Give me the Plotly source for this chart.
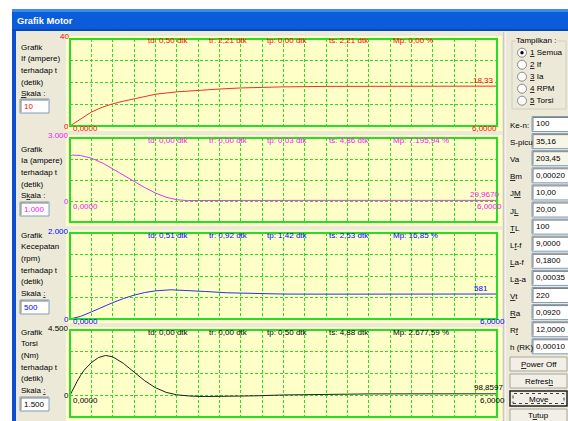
import plotly.graph_objects as go

# ---------------- simulation results ----------------
t_end = 6.0

t_if = [0, 0.15, 0.3, 0.45, 0.6, 0.75, 0.9, 1.05, 1.2, 1.5, 1.8, 2.1, 2.4, 2.7,
        3.0, 3.6, 4.2, 4.8, 5.4, 6.0]
i_field = [0, 3.4, 6.4, 8.6, 10.2, 11.4, 12.4, 13.6, 14.6, 15.7, 16.5, 17.0, 17.5,
           17.8, 18.0, 18.2, 18.28, 18.31, 18.33, 18.33]

t_ia = [0, 0.003, 0.03, 0.15, 0.3, 0.45, 0.6, 0.75, 0.9, 1.05, 1.2, 1.35, 1.5,
        1.65, 1.8, 2.1, 2.7, 3.6, 4.8, 6.0]
i_arm = [0, 2150, 2186, 2165, 2040, 1820, 1530, 1230, 920, 640, 380, 180, 60,
         20, 25, 29, 30, 30, 29.97, 29.967]

t_rpm = [0, 0.15, 0.3, 0.45, 0.6, 0.75, 0.9, 1.05, 1.2, 1.42, 1.65, 1.9, 2.2,
         2.53, 3.0, 3.6, 4.2, 5.0, 6.0]
speed_rpm = [0, 60, 165, 275, 380, 475, 555, 615, 655, 679, 668, 640, 610,
             592, 580, 578, 580, 581, 581]

t_tq = [0, 0.05, 0.1, 0.15, 0.2, 0.3, 0.4, 0.5, 0.6, 0.75, 0.9, 1.05, 1.2, 1.35,
        1.5, 1.7, 1.9, 2.2, 2.6, 3.0, 3.6, 4.2, 5.0, 6.0]
torque_nm = [0, 500, 960, 1380, 1740, 2250, 2600, 2746, 2650, 2200, 1580, 1000,
             520, 200, 30, -60, -90, -80, -40, 20, 70, 92, 98, 98.8597]

# vertical scale of each graph (top value and grid step)
scale_top = [40, 3000, 2000, 4500]
scale_step = [10, 1000, 500, 1500]
scale_top_text = ["40", "3.000", "2.000", "4.500"]
scale_step_text = ["10", "1.000", "500", "1.500"]
final_decimals = [2, 4, 0, 4]

stats_if = ["td: 0,50 dtk", "tr: 2,21 dtk", "tp: 0,00 dtk", "ts: 2,21 dtk", "Mp: 0,00 %"]
stats_ia = ["td: 0,00 dtk", "tr: 0,00 dtk", "tp: 0,03 dtk", "ts: 4,86 dtk", "Mp: 7.195,94 %"]
stats_rpm = ["td: 0,51 dtk", "tr: 0,92 dtk", "tp: 1,42 dtk", "ts: 2,53 dtk", "Mp: 16,85 %"]
stats_tq = ["td: 0,00 dtk", "tr: 0,00 dtk", "tp: 0,50 dtk", "ts: 4,88 dtk", "Mp: 2.677,59 %"]

desc_if = ["Grafik", "If (ampere)", "terhadap t", "(detik)", "<u>S</u>kala :"]
desc_ia = ["Grafik", "Ia (ampere)", "terhadap t", "(detik)", "S<u>k</u>ala :"]
desc_rpm = ["Grafik", "Kecepatan", "(rpm)", "terhadap t", "(detik)", "Skala <u>:</u>"]
desc_tq = ["Grafik", "Torsi", "(Nm)", "terhadap t", "(detik)", "Skala <u>:</u>"]

show_options = ["<u>1</u> Semua", "<u>2</u> If", "<u>3</u> Ia", "<u>4</u> RPM", "<u>5</u> Torsi"]
param_names = ["Ke-n:", "S-picu", "Va", "<u>B</u>m", "J<u>M</u>", "J<u>L</u>", "<u>T</u>L",
               "L<u>f</u>-f", "<u>L</u>a-f", "L<u>a</u>-a", "<u>V</u>t", "<u>R</u>a", "R<u>f</u>", "h (RK)"]
param_values = ["100", "35,16", "203,45", "0,00020", "10,00", "20,00", "100", "9,0000",
                "0,1800", "0,00035", "220", "0,0920", "12,0000", "0,00010"]
param_readonly = [False, True, True] + [False] * 11
button_names = ["<u>P</u>ower Off", "Refres<u>h</u>", "Move", "T<u>u</u>tup"]

# ---------------- page geometry (pixels) ----------------
W, H = 568, 421
FONT = "Liberation Sans, Arial, sans-serif"
FS = 8
BODY = "#ECE9D8"
YELLOW = "#FFFFC8"
GREEN = "#2ADC2A"


def px(x):
    return x / W


def py(y):
    return 1 - y / H


plot_l, plot_r = 70, 497
tops = [39, 138, 233, 330]
bots = [126, 222, 319, 417]
yel = [(36, 131), (135, 226), (230, 323), (327, 421)]
line_col = ["#FF2828", "#EE30EE", "#2E2EE8", "#202020"]
text_col = ["#FF0000", "#F020F0", "#0000FF", "#000000"]

series = [(t_if, i_field), (t_ia, i_arm), (t_rpm, speed_rpm), (t_tq, torque_nm)]
stats = [stats_if, stats_ia, stats_rpm, stats_tq]
descs = [desc_if, desc_ia, desc_rpm, desc_tq]
desc_top = [47, 149, 235, 332]
box_top = [99, 202, 300, 397]
stat_x = [147, 208, 266, 328, 392]
final_right = [495, 500, 489, 504]
end_right = [498, 503, 506, 506]

fig = go.Figure()
shapes = []
ann = []


def rect(x0, y0, x1, y1, fill=None, line=None, lw=1, dash=None, layer="below"):
    d = dict(type="rect", xref="paper", yref="paper", x0=px(x0), x1=px(x1),
             y0=py(y1), y1=py(y0), layer=layer,
             line=dict(width=lw if line else 0, color=line or "rgba(0,0,0,0)"))
    if dash:
        d["line"]["dash"] = dash
    if fill:
        d["fillcolor"] = fill
    shapes.append(d)


def line(x0, y0, x1, y1, color, lw=1, layer="below"):
    shapes.append(dict(type="line", xref="paper", yref="paper", x0=px(x0), x1=px(x1),
                       y0=py(y0), y1=py(y1), line=dict(color=color, width=lw), layer=layer))


def text(x, y, s, color="#000000", anchor="left", size=FS, bold=False, bg=None):
    a = dict(xref="paper", yref="paper", x=px(x), y=py(y), text=s, showarrow=False,
             xanchor=anchor, yanchor="middle", borderpad=0,
             font=dict(family=FONT, size=size, color=color))
    if bold:
        a["font"]["weight"] = "bold"
    if bg:
        a["bgcolor"] = bg
    ann.append(a)


# window chrome
rect(0, 0, W, H, fill="#FFFFFF")
rect(12, 9, W, H, fill=BODY)
rect(12, 9, 16, H, fill="#0A4FD2")
rect(12, 9, W, 31, fill="#0B5CDA")
rect(12, 9, W, 12, fill="#3D8BF2")
rect(12, 29, W, 31, fill="#0848B8")
text(16, 21, "Grafik Motor", "#FFFFFF", size=9.3, bold=True)
line(504, 32, 504, H, "#ACA899")
line(505, 32, 505, H, "#FFFFFF")

for i in range(4):
    k = "" if i == 0 else str(i + 1)
    top, bot = tops[i], bots[i]
    y_min = scale_top[i] - 4 * scale_step[i]
    rect(66, yel[i][0], 502, yel[i][1], fill=YELLOW)

    fig.add_trace(go.Scatter(x=series[i][0], y=series[i][1], mode="lines",
                             line=dict(color=line_col[i], width=1),
                             xaxis="x" + k, yaxis="y" + k, hoverinfo="skip",
                             showlegend=False))
    fig.layout["xaxis" + k] = dict(domain=[px(plot_l), px(plot_r)], range=[0, t_end],
                                   dtick=t_end / 20, tick0=0, showticklabels=False,
                                   showgrid=True, gridcolor=GREEN, griddash="3px,2px",
                                   gridwidth=1, zeroline=False, showline=False,
                                   ticks="", anchor="y" + k, fixedrange=True)
    fig.layout["yaxis" + k] = dict(domain=[py(bot), py(top)], range=[y_min, scale_top[i]],
                                   dtick=scale_step[i], tick0=0, showticklabels=False,
                                   showgrid=True, gridcolor=GREEN, griddash="3px,2px",
                                   gridwidth=1, zeroline=False, showline=False,
                                   ticks="", anchor="x" + k, fixedrange=True)
    shapes.append(dict(type="rect", xref="x" + k + " domain", yref="y" + k + " domain",
                       x0=0, x1=1, y0=0, y1=1, line=dict(color=GREEN, width=2),
                       layer="above"))

    # scale labels
    zero_px = top + (bot - top) * scale_top[i] / (4 * scale_step[i])
    text(70, top - 2, scale_top_text[i], text_col[i], anchor="right")
    text(70, zero_px, "0", text_col[i], anchor="right")
    lab_y = min(zero_px + 5, bot + 2)
    text(72, lab_y, "0,0000", text_col[i])
    text(end_right[i], lab_y, f"{t_end:.4f}".replace(".", ","), text_col[i], anchor="right")
    fv = series[i][1][-1]
    fv_px = top + (bot - top) * (scale_top[i] - fv) / (4 * scale_step[i])
    fv_txt = f"{fv:.{final_decimals[i]}f}".replace(".", ",")
    text(final_right[i], fv_px - 6, fv_txt, text_col[i], anchor="right")

    for sx, s in zip(stat_x, stats[i]):
        text(sx, top + 2, s, text_col[i])

    # description and scale input
    for j, s in enumerate(descs[i]):
        text(20, desc_top[i] + 11.7 * j, s)
    b0 = box_top[i]
    rect(20, b0, 49, b0 + 14, fill="#FFFFFF", line="#7F9DB9")
    line(21, b0 + 1, 48, b0 + 1, "#808080")
    line(21, b0 + 1, 21, b0 + 13, "#808080")
    text(23, b0 + 7.5, scale_step_text[i], text_col[i])

# option group
rect(512, 41, 566, 109, line="#D0D0BF")
text(515, 41, "Tampilkan :", bg=BODY)
for j, s in enumerate(show_options):
    cy = 52.7 + 12 * j
    shapes.append(dict(type="circle", xref="paper", yref="paper", x0=px(517.5), x1=px(526.5),
                       y0=py(cy + 4.5), y1=py(cy - 4.5), fillcolor="#FFFFFF",
                       line=dict(color="#8A8A8A", width=1), layer="above"))
    if j == 0:
        shapes.append(dict(type="circle", xref="paper", yref="paper", x0=px(520.3), x1=px(523.7),
                           y0=py(cy + 1.7), y1=py(cy - 1.7), fillcolor="#000000",
                           line=dict(color="#000000", width=0), layer="above"))
    text(529, cy, s)

# parameter fields
for j, (nm, val) in enumerate(zip(param_names, param_values)):
    cy = 124 + 17.1 * j
    text(509, cy + 1.5, nm)
    rect(532, cy - 7.5, 572, cy + 7.5, fill="#F8F6E8" if param_readonly[j] else "#FFFFFF",
         line="#7F9DB9")
    line(533, cy - 6.5, 572, cy - 6.5, "#808080")
    line(533, cy - 6.5, 533, cy + 6.5, "#808080")
    text(535, cy, val)

# buttons (the last one runs off the bottom of the window)
btn_y = [(357, 371), (374, 388), (391, 406), (409, 426)]
btn_text_y = [364.5, 381.5, 399, 415]
for j, (nm, (y0, y1)) in enumerate(zip(button_names, btn_y)):
    focused = nm == "Move"
    rect(510, y0, 567, y1, fill="#F1EFE6", line="#202020" if focused else "#A9A79C",
         lw=1.5 if focused else 1)
    if focused:
        rect(513, y0 + 2.5, 564, y1 - 2.5, line="#404040", dash="dot")
    text(538.5, btn_text_y[j], nm, anchor="center")

fig.update_layout(width=W, height=H, margin=dict(l=0, r=0, t=0, b=0),
                  paper_bgcolor="#FFFFFF", plot_bgcolor=YELLOW,
                  shapes=shapes, annotations=ann, showlegend=False,
                  font=dict(family=FONT, size=FS))

fig.write_html("out.html", config={"displayModeBar": False})
